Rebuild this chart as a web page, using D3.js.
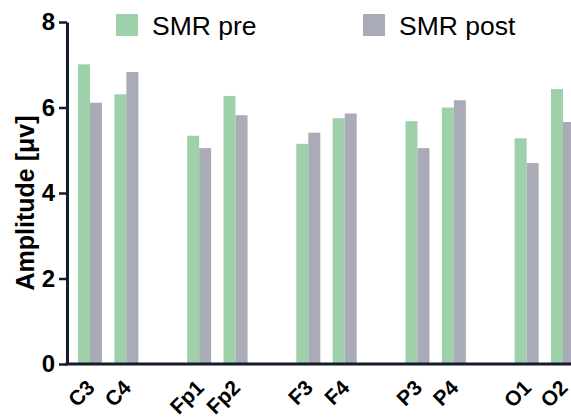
<!DOCTYPE html>
<html>
<head>
<meta charset="utf-8">
<script src="https://cdn.jsdelivr.net/npm/d3@7"></script>
<style>
  body { margin: 0; background: #fff; }
  svg { display: block; font-family: "Liberation Sans", Arial, sans-serif; }
</style>
</head>
<body>
<svg id="chart" width="571" height="419"></svg>
<script>
// Data
const electrodes = ["C3", "C4", "Fp1", "Fp2", "F3", "F4", "P3", "P4", "O1", "O2"];
// slot index of each electrode (pairs separated by an empty slot)
const slots = [0, 1, 3, 4, 6, 7, 9, 10, 12, 13];
const smrPre = [7.01, 6.31, 5.34, 6.27, 5.15, 5.75, 5.68, 6.00, 5.28, 6.43];
const smrPost = [6.11, 6.83, 5.05, 5.82, 5.41, 5.86, 5.05, 6.17, 4.70, 5.66];
const seriesNames = ["SMR pre", "SMR post"];
const yTicks = [0, 2, 4, 6, 8];

const colors = ["#9ed0a9", "#a9abb7"];
const axisColor = "#141b2b";

const width = 571, height = 419;
const plotTop = 22, plotBottom = 364, plotLeft = 67;

const svg = d3.select('#chart');

const x = d3.scaleLinear().domain([0, 13]).range([90, 563]);
const y = d3.scaleLinear().domain([0, 8]).range([plotBottom, plotTop]);
const slotW = x(1) - x(0);
const barW = slotW * 0.33;

// Bars
const rows = electrodes.map((e, i) => ({ name: e, slot: slots[i], pre: smrPre[i], post: smrPost[i] }));

svg.append('g').selectAll('rect')
    .data(rows)
    .join('rect')
    .attr('x', d => x(d.slot) - barW)
    .attr('y', d => y(d.pre))
    .attr('width', barW)
    .attr('height', d => y(0) - y(d.pre))
    .attr('fill', colors[0]);

svg.append('g').selectAll('rect')
    .data(rows)
    .join('rect')
    .attr('x', d => x(d.slot))
    .attr('y', d => y(d.post))
    .attr('width', barW)
    .attr('height', d => y(0) - y(d.post))
    .attr('fill', colors[1]);

// Y axis
const yAxis = svg.append('g')
    .attr('transform', `translate(${plotLeft},0)`)
    .call(d3.axisLeft(y).tickValues(yTicks).tickSize(8).tickPadding(4).tickSizeOuter(0));
yAxis.select('.domain').attr('stroke', axisColor).attr('stroke-width', 3);
yAxis.selectAll('.tick line').attr('stroke', axisColor).attr('stroke-width', 2.5);
yAxis.selectAll('.tick text')
    .attr('fill', '#000')
    .style('font-size', '24px')
    .style('font-weight', 'bold');

// X axis line
svg.append('line')
    .attr('x1', plotLeft - 1.5)
    .attr('x2', width)
    .attr('y1', y(0))
    .attr('y2', y(0))
    .attr('stroke', axisColor)
    .attr('stroke-width', 3);

// X labels, rotated
svg.append('g').selectAll('text')
    .data(rows)
    .join('text')
    .attr('transform', d => `translate(${x(d.slot) + 6},${plotBottom + 25}) rotate(-45)`)
    .attr('text-anchor', 'end')
    .style('font-size', '21px')
    .style('font-weight', 'bold')
    .text(d => d.name);

// Y axis title
svg.append('text')
    .attr('transform', `translate(34,${(plotTop + plotBottom) / 2 + 10}) rotate(-90)`)
    .attr('text-anchor', 'middle')
    .style('font-size', '25px')
    .style('font-weight', 'bold')
    .text('Amplitude [μv]');

// Legend
const legendX = [116, 363];
const legend = svg.append('g').selectAll('g')
    .data(seriesNames)
    .join('g')
    .attr('transform', (d, i) => `translate(${legendX[i]},14)`);
legend.append('rect')
    .attr('width', 22)
    .attr('height', 22)
    .attr('fill', (d, i) => colors[i]);
legend.append('text')
    .attr('x', 36)
    .attr('y', 21)
    .style('font-size', '26.5px')
    .text(d => d);
</script>
</body>
</html>
